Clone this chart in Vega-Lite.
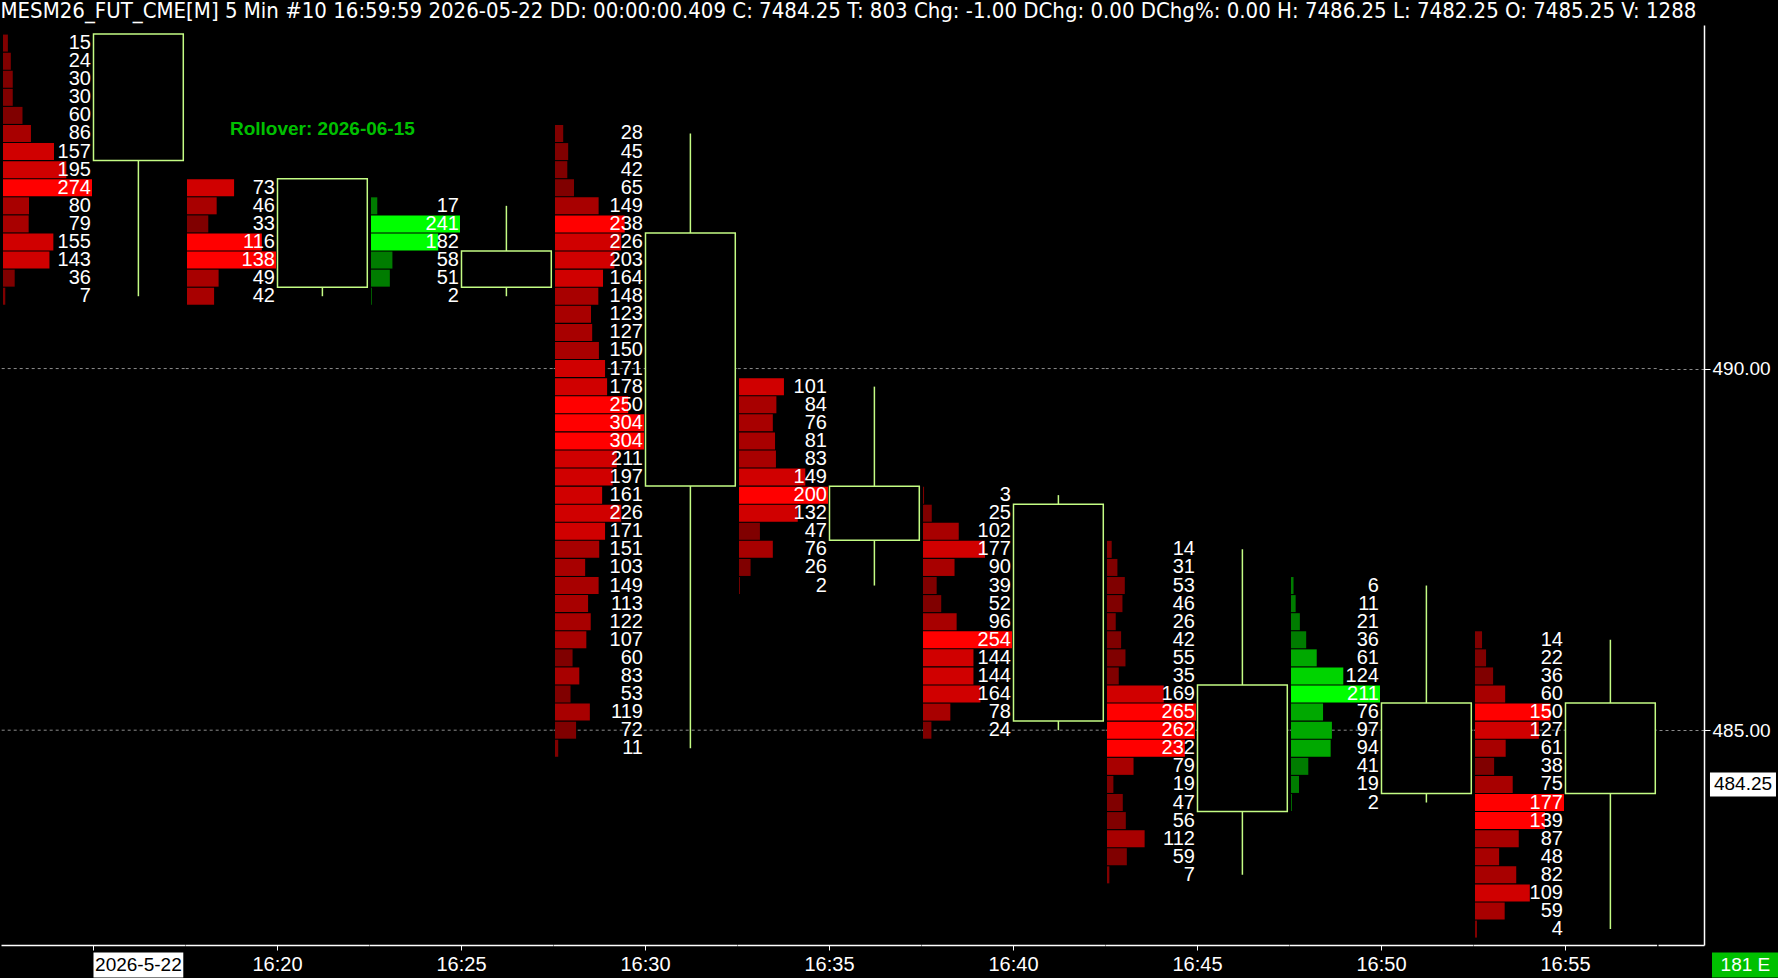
{
  "$schema": "https://vega.github.io/schema/vega-lite/v6.json",
  "background": "black",
  "padding": {"left": 0, "top": 0, "right": 0, "bottom": 0},
  "title": {"text": "MESM26_FUT_CME[M]  5 Min  #10 16:59:59 2026-05-22  DD: 00:00:00.409 C: 7484.25 T: 803 Chg: -1.00 DChg: 0.00 DChg%: 0.00 H: 7486.25 L: 7482.25 O: 7485.25 V: 1288", "anchor": "start", "frame": "bounds", "color": "white", "font": "Liberation Sans Narrow, DejaVu Sans Condensed, sans-serif", "fontSize": 22, "fontWeight": "normal", "offset": 2},
  "data": {"values": [
    {"k":"v","t":"16:15","d":"dn","p":494.5,"v":15},{"k":"v","t":"16:15","d":"dn","p":494.25,"v":24},{"k":"v","t":"16:15","d":"dn","p":494.0,"v":30},{"k":"v","t":"16:15","d":"dn","p":493.75,"v":30},{"k":"v","t":"16:15","d":"dn","p":493.5,"v":60},{"k":"v","t":"16:15","d":"dn","p":493.25,"v":86},{"k":"v","t":"16:15","d":"dn","p":493.0,"v":157},{"k":"v","t":"16:15","d":"dn","p":492.75,"v":195},{"k":"v","t":"16:15","d":"dn","p":492.5,"v":274},{"k":"v","t":"16:15","d":"dn","p":492.25,"v":80},{"k":"v","t":"16:15","d":"dn","p":492.0,"v":79},{"k":"v","t":"16:15","d":"dn","p":491.75,"v":155},{"k":"v","t":"16:15","d":"dn","p":491.5,"v":143},{"k":"v","t":"16:15","d":"dn","p":491.25,"v":36},{"k":"v","t":"16:15","d":"dn","p":491.0,"v":7},
    {"k":"v","t":"16:20","d":"dn","p":492.5,"v":73},{"k":"v","t":"16:20","d":"dn","p":492.25,"v":46},{"k":"v","t":"16:20","d":"dn","p":492.0,"v":33},{"k":"v","t":"16:20","d":"dn","p":491.75,"v":116},{"k":"v","t":"16:20","d":"dn","p":491.5,"v":138},{"k":"v","t":"16:20","d":"dn","p":491.25,"v":49},{"k":"v","t":"16:20","d":"dn","p":491.0,"v":42},
    {"k":"v","t":"16:25","d":"up","p":492.25,"v":17},{"k":"v","t":"16:25","d":"up","p":492.0,"v":241},{"k":"v","t":"16:25","d":"up","p":491.75,"v":182},{"k":"v","t":"16:25","d":"up","p":491.5,"v":58},{"k":"v","t":"16:25","d":"up","p":491.25,"v":51},{"k":"v","t":"16:25","d":"up","p":491.0,"v":2},
    {"k":"v","t":"16:30","d":"dn","p":493.25,"v":28},{"k":"v","t":"16:30","d":"dn","p":493.0,"v":45},{"k":"v","t":"16:30","d":"dn","p":492.75,"v":42},{"k":"v","t":"16:30","d":"dn","p":492.5,"v":65},{"k":"v","t":"16:30","d":"dn","p":492.25,"v":149},{"k":"v","t":"16:30","d":"dn","p":492.0,"v":238},{"k":"v","t":"16:30","d":"dn","p":491.75,"v":226},{"k":"v","t":"16:30","d":"dn","p":491.5,"v":203},{"k":"v","t":"16:30","d":"dn","p":491.25,"v":164},{"k":"v","t":"16:30","d":"dn","p":491.0,"v":148},{"k":"v","t":"16:30","d":"dn","p":490.75,"v":123},{"k":"v","t":"16:30","d":"dn","p":490.5,"v":127},{"k":"v","t":"16:30","d":"dn","p":490.25,"v":150},{"k":"v","t":"16:30","d":"dn","p":490.0,"v":171},{"k":"v","t":"16:30","d":"dn","p":489.75,"v":178},{"k":"v","t":"16:30","d":"dn","p":489.5,"v":250},{"k":"v","t":"16:30","d":"dn","p":489.25,"v":304},{"k":"v","t":"16:30","d":"dn","p":489.0,"v":304},{"k":"v","t":"16:30","d":"dn","p":488.75,"v":211},{"k":"v","t":"16:30","d":"dn","p":488.5,"v":197},{"k":"v","t":"16:30","d":"dn","p":488.25,"v":161},{"k":"v","t":"16:30","d":"dn","p":488.0,"v":226},{"k":"v","t":"16:30","d":"dn","p":487.75,"v":171},{"k":"v","t":"16:30","d":"dn","p":487.5,"v":151},{"k":"v","t":"16:30","d":"dn","p":487.25,"v":103},{"k":"v","t":"16:30","d":"dn","p":487.0,"v":149},{"k":"v","t":"16:30","d":"dn","p":486.75,"v":113},{"k":"v","t":"16:30","d":"dn","p":486.5,"v":122},{"k":"v","t":"16:30","d":"dn","p":486.25,"v":107},{"k":"v","t":"16:30","d":"dn","p":486.0,"v":60},{"k":"v","t":"16:30","d":"dn","p":485.75,"v":83},{"k":"v","t":"16:30","d":"dn","p":485.5,"v":53},{"k":"v","t":"16:30","d":"dn","p":485.25,"v":119},{"k":"v","t":"16:30","d":"dn","p":485.0,"v":72},{"k":"v","t":"16:30","d":"dn","p":484.75,"v":11},
    {"k":"v","t":"16:35","d":"dn","p":489.75,"v":101},{"k":"v","t":"16:35","d":"dn","p":489.5,"v":84},{"k":"v","t":"16:35","d":"dn","p":489.25,"v":76},{"k":"v","t":"16:35","d":"dn","p":489.0,"v":81},{"k":"v","t":"16:35","d":"dn","p":488.75,"v":83},{"k":"v","t":"16:35","d":"dn","p":488.5,"v":149},{"k":"v","t":"16:35","d":"dn","p":488.25,"v":200},{"k":"v","t":"16:35","d":"dn","p":488.0,"v":132},{"k":"v","t":"16:35","d":"dn","p":487.75,"v":47},{"k":"v","t":"16:35","d":"dn","p":487.5,"v":76},{"k":"v","t":"16:35","d":"dn","p":487.25,"v":26},{"k":"v","t":"16:35","d":"dn","p":487.0,"v":2},
    {"k":"v","t":"16:40","d":"dn","p":488.25,"v":3},{"k":"v","t":"16:40","d":"dn","p":488.0,"v":25},{"k":"v","t":"16:40","d":"dn","p":487.75,"v":102},{"k":"v","t":"16:40","d":"dn","p":487.5,"v":177},{"k":"v","t":"16:40","d":"dn","p":487.25,"v":90},{"k":"v","t":"16:40","d":"dn","p":487.0,"v":39},{"k":"v","t":"16:40","d":"dn","p":486.75,"v":52},{"k":"v","t":"16:40","d":"dn","p":486.5,"v":96},{"k":"v","t":"16:40","d":"dn","p":486.25,"v":254},{"k":"v","t":"16:40","d":"dn","p":486.0,"v":144},{"k":"v","t":"16:40","d":"dn","p":485.75,"v":144},{"k":"v","t":"16:40","d":"dn","p":485.5,"v":164},{"k":"v","t":"16:40","d":"dn","p":485.25,"v":78},{"k":"v","t":"16:40","d":"dn","p":485.0,"v":24},
    {"k":"v","t":"16:45","d":"dn","p":487.5,"v":14},{"k":"v","t":"16:45","d":"dn","p":487.25,"v":31},{"k":"v","t":"16:45","d":"dn","p":487.0,"v":53},{"k":"v","t":"16:45","d":"dn","p":486.75,"v":46},{"k":"v","t":"16:45","d":"dn","p":486.5,"v":26},{"k":"v","t":"16:45","d":"dn","p":486.25,"v":42},{"k":"v","t":"16:45","d":"dn","p":486.0,"v":55},{"k":"v","t":"16:45","d":"dn","p":485.75,"v":35},{"k":"v","t":"16:45","d":"dn","p":485.5,"v":169},{"k":"v","t":"16:45","d":"dn","p":485.25,"v":265},{"k":"v","t":"16:45","d":"dn","p":485.0,"v":262},{"k":"v","t":"16:45","d":"dn","p":484.75,"v":232},{"k":"v","t":"16:45","d":"dn","p":484.5,"v":79},{"k":"v","t":"16:45","d":"dn","p":484.25,"v":19},{"k":"v","t":"16:45","d":"dn","p":484.0,"v":47},{"k":"v","t":"16:45","d":"dn","p":483.75,"v":56},{"k":"v","t":"16:45","d":"dn","p":483.5,"v":112},{"k":"v","t":"16:45","d":"dn","p":483.25,"v":59},{"k":"v","t":"16:45","d":"dn","p":483.0,"v":7},
    {"k":"v","t":"16:50","d":"up","p":487.0,"v":6},{"k":"v","t":"16:50","d":"up","p":486.75,"v":11},{"k":"v","t":"16:50","d":"up","p":486.5,"v":21},{"k":"v","t":"16:50","d":"up","p":486.25,"v":36},{"k":"v","t":"16:50","d":"up","p":486.0,"v":61},{"k":"v","t":"16:50","d":"up","p":485.75,"v":124},{"k":"v","t":"16:50","d":"up","p":485.5,"v":211},{"k":"v","t":"16:50","d":"up","p":485.25,"v":76},{"k":"v","t":"16:50","d":"up","p":485.0,"v":97},{"k":"v","t":"16:50","d":"up","p":484.75,"v":94},{"k":"v","t":"16:50","d":"up","p":484.5,"v":41},{"k":"v","t":"16:50","d":"up","p":484.25,"v":19},{"k":"v","t":"16:50","d":"up","p":484.0,"v":2},
    {"k":"v","t":"16:55","d":"dn","p":486.25,"v":14},{"k":"v","t":"16:55","d":"dn","p":486.0,"v":22},{"k":"v","t":"16:55","d":"dn","p":485.75,"v":36},{"k":"v","t":"16:55","d":"dn","p":485.5,"v":60},{"k":"v","t":"16:55","d":"dn","p":485.25,"v":150},{"k":"v","t":"16:55","d":"dn","p":485.0,"v":127},{"k":"v","t":"16:55","d":"dn","p":484.75,"v":61},{"k":"v","t":"16:55","d":"dn","p":484.5,"v":38},{"k":"v","t":"16:55","d":"dn","p":484.25,"v":75},{"k":"v","t":"16:55","d":"dn","p":484.0,"v":177},{"k":"v","t":"16:55","d":"dn","p":483.75,"v":139},{"k":"v","t":"16:55","d":"dn","p":483.5,"v":87},{"k":"v","t":"16:55","d":"dn","p":483.25,"v":48},{"k":"v","t":"16:55","d":"dn","p":483.0,"v":82},{"k":"v","t":"16:55","d":"dn","p":482.75,"v":109},{"k":"v","t":"16:55","d":"dn","p":482.5,"v":59},{"k":"v","t":"16:55","d":"dn","p":482.25,"v":4},
    {"k":"c","t":"16:15","o":494.5,"h":494.5,"l":491.0,"c":493.0},
    {"k":"c","t":"16:20","o":492.5,"h":492.5,"l":491.0,"c":491.25},
    {"k":"c","t":"16:25","o":491.25,"h":492.25,"l":491.0,"c":491.5},
    {"k":"c","t":"16:30","o":491.75,"h":493.25,"l":484.75,"c":488.5},
    {"k":"c","t":"16:35","o":488.25,"h":489.75,"l":487.0,"c":487.75},
    {"k":"c","t":"16:40","o":488.0,"h":488.25,"l":485.0,"c":485.25},
    {"k":"c","t":"16:45","o":485.5,"h":487.5,"l":483.0,"c":484.0},
    {"k":"c","t":"16:50","o":484.25,"h":487.0,"l":484.0,"c":485.25},
    {"k":"c","t":"16:55","o":485.25,"h":486.25,"l":482.25,"c":484.25}
  ]},
  "spacing": 0,
  "hconcat": [
    {
      "facet": {"column": {"field": "t", "type": "ordinal", "title": null, "header": {"labels": false, "title": null}}},
      "spacing": 0,
      "bounds": "flush",
      "resolve": {"scale": {"x": "independent", "color": "independent"}},
      "spec": {
        "width": 183.7,
        "height": 920,
        "resolve": {"scale": {"x": "independent", "color": "independent"}},
        "layer": [
          {
            "transform": [{"filter": "datum.k == 'c'"}],
            "mark": {"type": "rule", "color": "#8c8c8c", "strokeDash": [3, 3], "strokeWidth": 1},
            "encoding": {"y": {"datum": 490, "type": "quantitative", "scale": {"domain": [482.03, 494.75], "nice": false, "zero": false, "padding": 0}, "axis": null}}
          },
          {
            "transform": [{"filter": "datum.k == 'c'"}],
            "mark": {"type": "rule", "color": "#8c8c8c", "strokeDash": [3, 3], "strokeWidth": 1},
            "encoding": {"y": {"datum": 485, "type": "quantitative", "axis": null}}
          },
          {
            "transform": [{"filter": "datum.k == 'v' && datum.d == 'dn'"}],
            "mark": {"type": "bar", "orient": "horizontal", "height": 17},
            "encoding": {
              "y": {"field": "p", "type": "quantitative", "axis": null},
              "x": {"field": "v", "type": "quantitative", "scale": {"zero": true, "nice": false, "range": [2, 91]}, "axis": null},
              "color": {"field": "v", "type": "quantitative", "scale": {"type": "quantize", "zero": true, "nice": false, "range": ["#800000", "#A80000", "#D00000", "#FF0000"]}, "legend": null}
            }
          },
          {
            "transform": [{"filter": "datum.k == 'v' && datum.d == 'up'"}],
            "mark": {"type": "bar", "orient": "horizontal", "height": 17},
            "encoding": {
              "y": {"field": "p", "type": "quantitative", "axis": null},
              "x": {"field": "v", "type": "quantitative", "scale": {"zero": true, "nice": false, "range": [2, 91]}, "axis": null},
              "color": {"field": "v", "type": "quantitative", "scale": {"type": "quantize", "zero": true, "nice": false, "range": ["#007C00", "#00A800", "#00D400", "#00FF00"]}, "legend": null}
            }
          },
          {
            "layer": [
              {
                "transform": [{"filter": "datum.k == 'c'"}],
                "mark": {"type": "rule", "color": "#C4FC84", "strokeWidth": 1.5},
                "encoding": {
                  "x": {"field": "t", "type": "nominal", "bandPosition": 0.5, "scale": {"type": "band", "paddingInner": 0, "paddingOuter": 0.5228, "align": 0.985},
                        "axis": {"title": null, "labels": false, "grid": false, "domain": true, "domainColor": "white", "domainWidth": 1.5, "ticks": true, "tickColor": "white", "tickSize": 5, "bandPosition": 0}},
                  "y": {"field": "l", "type": "quantitative", "axis": null},
                  "y2": {"field": "h"}
                }
              },
              {
                "transform": [{"filter": "datum.k == 'c' && datum.c < datum.o"}],
                "mark": {"type": "bar", "fill": "black", "stroke": "#C4FC84", "strokeWidth": 1.5, "yOffset": -9, "y2Offset": 9},
                "encoding": {
                  "x": {"field": "t", "type": "nominal"},
                  "y": {"field": "o", "type": "quantitative", "axis": null},
                  "y2": {"field": "c"}
                }
              },
              {
                "transform": [{"filter": "datum.k == 'c' && datum.c > datum.o"}],
                "mark": {"type": "bar", "fill": "black", "stroke": "#C4FC84", "strokeWidth": 1.5, "yOffset": -9, "y2Offset": 9},
                "encoding": {
                  "x": {"field": "t", "type": "nominal"},
                  "y": {"field": "c", "type": "quantitative", "axis": null},
                  "y2": {"field": "o"}
                }
              },
              {
                "transform": [{"filter": "datum.k == 'v'"}],
                "mark": {"type": "text", "align": "right", "baseline": "middle", "dx": -2.5, "color": "white", "font": "Liberation Sans", "fontSize": 20},
                "encoding": {
                  "x": {"field": "t", "type": "nominal", "bandPosition": 0},
                  "y": {"field": "p", "type": "quantitative", "axis": null},
                  "text": {"field": "v", "type": "quantitative"}
                }
              },
              {
                "transform": [{"filter": "datum.k == 'c' && datum.t == '16:20'"}],
                "mark": {"type": "text", "align": "center", "baseline": "middle", "color": "#00C000", "font": "Liberation Sans", "fontSize": 19, "fontWeight": "bold"},
                "encoding": {
                  "x": {"field": "t", "type": "nominal", "bandPosition": 0.5},
                  "y": {"datum": 493.31, "type": "quantitative", "axis": null},
                  "text": {"value": "Rollover: 2026-06-15"}
                }
              },
              {
                "transform": [{"filter": "datum.k == 'c' && datum.t == '16:15'"}],
                "mark": {"type": "bar", "fill": "white", "height": 25, "clip": false},
                "encoding": {
                  "x": {"field": "t", "type": "nominal"},
                  "y": {"datum": 481.755, "type": "quantitative", "axis": null}
                }
              },
              {
                "transform": [{"filter": "datum.k == 'c' && datum.t == '16:15'"}],
                "mark": {"type": "text", "align": "center", "baseline": "middle", "color": "black", "font": "Liberation Sans", "fontSize": 19, "clip": false},
                "encoding": {
                  "x": {"field": "t", "type": "nominal", "bandPosition": 0.5},
                  "y": {"datum": 481.755, "type": "quantitative", "axis": null},
                  "text": {"value": "2026-5-22"}
                }
              },
              {
                "transform": [{"filter": "datum.k == 'c' && datum.t != '16:15'"}],
                "mark": {"type": "text", "align": "center", "baseline": "middle", "color": "white", "font": "Liberation Sans", "fontSize": 20, "clip": false},
                "encoding": {
                  "x": {"field": "t", "type": "nominal", "bandPosition": 0},
                  "y": {"datum": 481.755, "type": "quantitative", "axis": null},
                  "text": {"field": "t", "type": "nominal"}
                }
              }
            ]
          }
        ]
      }
    },
    {
      "width": 46,
      "height": 920,
      "transform": [{"filter": "datum.k == 'c' && datum.t == '16:55'"}],
      "layer": [
        {
          "mark": {"type": "bar", "fill": "white", "height": 24, "clip": false},
          "encoding": {
            "y": {"field": "c", "type": "quantitative", "scale": {"domain": [482.03, 494.75], "nice": false, "zero": false, "padding": 0},
                  "axis": {"orient": "right", "values": [485, 490], "format": ".2f", "title": null, "grid": true, "gridColor": "#8c8c8c", "gridDash": [3, 3], "domainColor": "white", "domainWidth": 1.5, "tickColor": "white", "tickSize": 6, "labelColor": "white", "labelFontSize": 19, "labelFont": "Liberation Sans", "labelPadding": 2}},
            "x": {"datum": 1.13, "type": "quantitative", "scale": {"domain": [0, 1], "nice": false, "zero": false, "padding": 0},
                  "axis": {"title": null, "labels": false, "ticks": false, "grid": false, "domain": true, "domainColor": "white", "domainWidth": 1.5}},
            "x2": {"datum": 2.565}
          }
        },
        {
          "mark": {"type": "text", "align": "center", "baseline": "middle", "color": "black", "font": "Liberation Sans", "fontSize": 19, "clip": false},
          "encoding": {
            "y": {"field": "c", "type": "quantitative"},
            "x": {"datum": 1.848, "type": "quantitative"},
            "text": {"field": "c", "type": "quantitative", "format": ".2f"}
          }
        },
        {
          "mark": {"type": "bar", "fill": "#00C000", "height": 25, "clip": false},
          "encoding": {
            "y": {"datum": 481.755, "type": "quantitative"},
            "x": {"datum": 1.174, "type": "quantitative"},
            "x2": {"datum": 2.63}
          }
        },
        {
          "mark": {"type": "text", "align": "center", "baseline": "middle", "color": "white", "font": "Liberation Sans", "fontSize": 19, "clip": false},
          "encoding": {
            "y": {"datum": 481.755, "type": "quantitative"},
            "x": {"datum": 1.9, "type": "quantitative"},
            "text": {"value": "181 E"}
          }
        }
      ]
    }
  ],
  "config": {
    "view": {"stroke": null},
    "font": "Liberation Sans",
    "axis": {"labelFont": "Liberation Sans"}
  }
}
